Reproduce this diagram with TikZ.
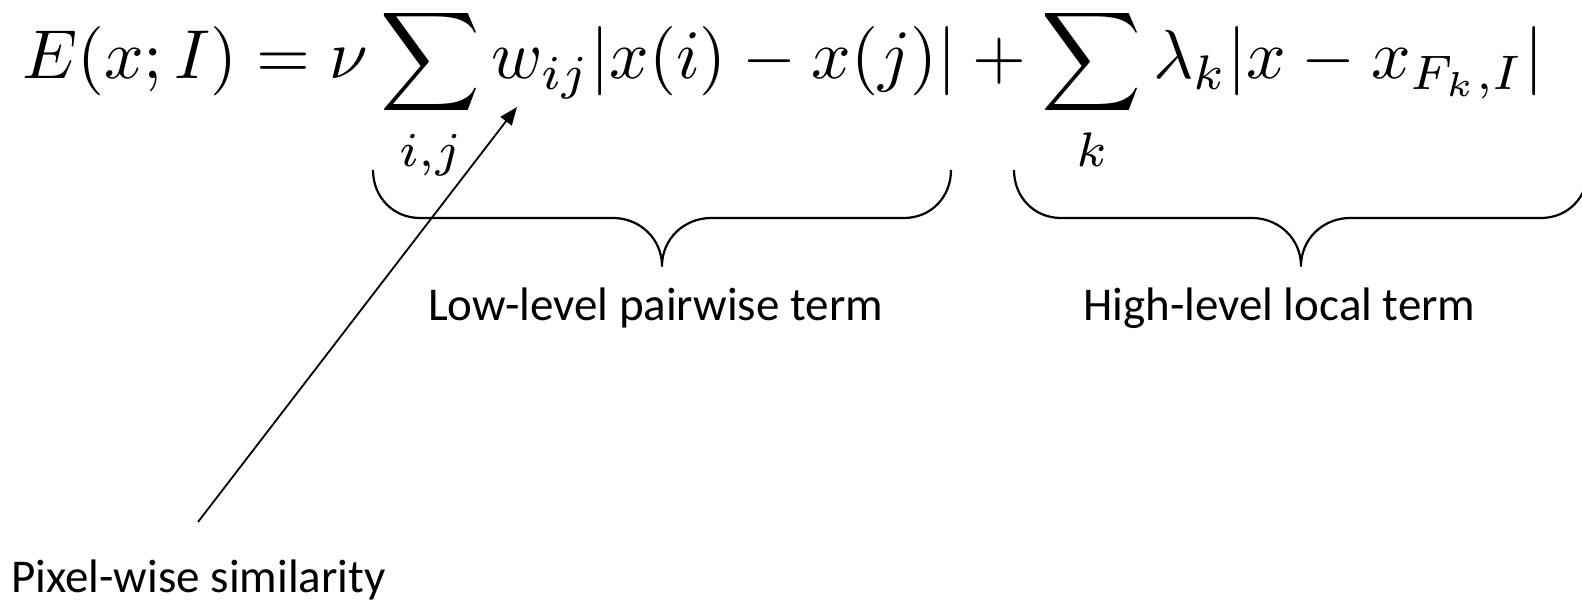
\documentclass[tikz,border=0pt]{standalone}
\usepackage{fontspec}
\usepackage{amsmath}
\setsansfont{Carlito}
\usetikzlibrary{arrows.meta}
\newcommand{\limstrut}{\rule{0pt}{5.5pt}}
\tikzset{
  lbl/.style={font=\sffamily\fontsize{47pt}{56pt}\selectfont, inner sep=0pt, anchor=base west},
  brace/.style={line width=2.2pt, line join=round},
  pointer/.style={line width=1.8pt, -{Triangle[length=18pt,width=14pt]}}
}
\begin{document}
\begin{tikzpicture}[x=1pt,y=-1pt]
\useasboundingbox (0,0) rectangle (1582,601);
\node[inner sep=0pt, anchor=base west] (f) at (22,79)
  {\scalebox{6.93}{$\displaystyle E(x;I)=\nu\sum_{\limstrut i,j}w_{ij}|x(i)-x(j)|+\sum_{\limstrut k}\lambda_k|x-x_{F_k,I}|$}};
% brace 1
\draw[brace] (373,170) .. controls (373,197) and (393,218) .. (420,218)
  -- (613,218) .. controls (640,218) and (662,239) .. (662,266)
  .. controls (662,239) and (684,218) .. (711,218)
  -- (904,218) .. controls (931,218) and (951,197) .. (951,170);
% brace 2
\draw[brace] (1014,170) .. controls (1014,197) and (1034,218) .. (1061,218)
  -- (1252,218) .. controls (1279,218) and (1301,239) .. (1301,266)
  .. controls (1301,239) and (1323,218) .. (1350,218)
  -- (1541,218) .. controls (1568,218) and (1588,197) .. (1588,170);
\node[lbl] (low) at (428,321) {Low-level pairwise term};
\node[lbl] (high) at (1083,321) {High-level local term};
\node[lbl] (pix) at (11,592) {Pixel-wise similarity};
\coordinate (tail) at (198,522);
\coordinate (head) at (517,107);
\draw[pointer] (tail) -- (head);
\end{tikzpicture}
\end{document}
